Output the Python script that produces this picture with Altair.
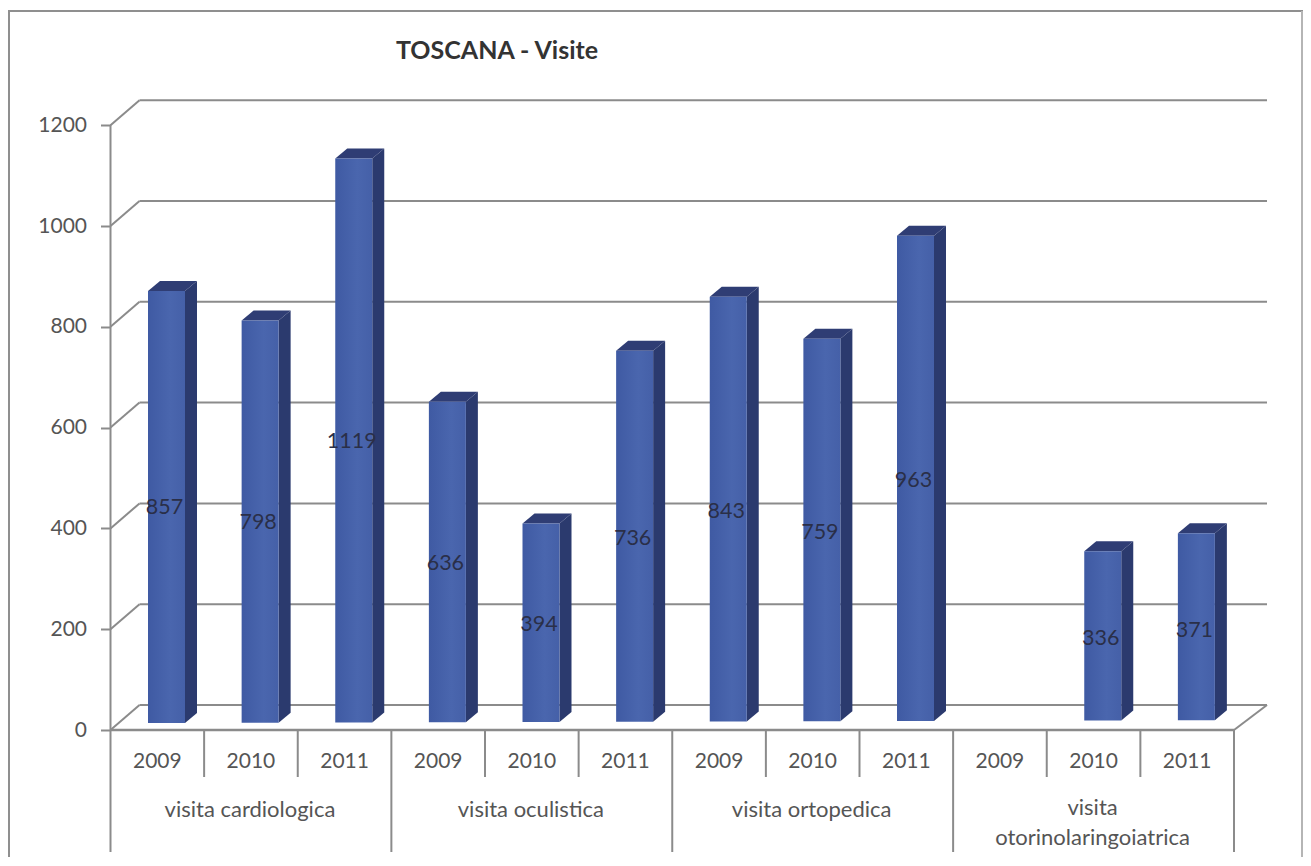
import altair as alt
import pandas as pd

# ---- chart values ----
title_text = "TOSCANA - Visite"
groups = [["visita cardiologica"], ["visita oculistica"], ["visita ortopedica"],
          ["visita", "otorinolaringoiatrica"]]
years = ["2009", "2010", "2011"]
values = [857, 798, 1119, 636, 394, 736, 843, 759, 963, None, 336, 371]
ticks = [0, 200, 400, 600, 800, 1000, 1200]

# ---- geometry of the pseudo-3D box (picture pixels) ----
PX_PER_UNIT = 0.504
Y0 = 730
AX_L, AX_R = 110.5, 1234
DX, DY = 29, 25
STEP = (AX_R - AX_L) / 12
BAR_IN, BAR_W = 37.5, 37
BASE = 7            # bars stand slightly behind the front edge
TILT = 0.25         # the scanned page rises slightly to the right
B_DX, B_DY = 12, 10
BOTTOM = 857        # last picture row drawn, keeps the page from overflowing
RIGHT = 1303


def u(px):  # pixel height above the zero line -> value units
    return px / PX_PER_UNIT


def py(p):  # picture y -> value units
    return (Y0 - p) / PX_PER_UNIT


xs = alt.Scale(domain=[8, RIGHT], range=[0, RIGHT - 8], nice=False, zero=False)
ys = alt.Scale(domain=[py(BOTTOM), py(8)], range=[BOTTOM - 8, 0], nice=False, zero=False)
GRID = "#8b8b8b"
TXT = "#555555"
FONT = "Lato"
AXIS = alt.Axis(values=ticks, title=None, grid=False, domain=False, offset=-(AX_L - 8),
                tickSize=10, tickColor=GRID, tickWidth=2, labelFont=FONT, labelFontSize=21,
                labelColor=TXT, labelPadding=14, format="d")
X = lambda f="x": alt.X(f"{f}:Q", scale=xs, axis=None)
Y = lambda f="y": alt.Y(f"{f}:Q", scale=ys, axis=AXIS)

# ---- axis / grid ----
back = pd.DataFrame({"x": AX_L + DX, "x2": AX_R + DX + 4, "y": [t + u(DY) for t in ticks]})
grid = alt.Chart(back).mark_rule(color=GRID, strokeWidth=2).encode(X(), x2="x2:Q", y=Y())

diag_rows = []
for t in ticks:
    diag_rows += [dict(k=f"t{t}", x=AX_L, y=t), dict(k=f"t{t}", x=AX_L + DX, y=t + u(DY))]
diag_rows += [dict(k="r", x=AX_R, y=0), dict(k="r", x=AX_R + 33, y=u(DY))]
diag = alt.Chart(pd.DataFrame(diag_rows)).mark_line(color=GRID, strokeWidth=2).encode(X(), Y(), detail="k:N")

front_floor = alt.Chart(pd.DataFrame({"x": [AX_L], "x2": [AX_R], "y": [0]})).mark_rule(
    color=GRID, strokeWidth=2.5).encode(X(), x2="x2:Q", y=Y())

yaxis = alt.Chart(pd.DataFrame({"x": [AX_L], "y": [0], "y2": [1200]})).mark_rule(
    color=GRID, strokeWidth=2).encode(X(), y=Y(), y2="y2:Q")

sep_rows = []
for i in range(13):
    sep_rows.append(dict(x=AX_L + i * STEP, y=0, y2=py(852 if i % 3 == 0 else 777)))
seps = alt.Chart(pd.DataFrame(sep_rows)).mark_rule(color=GRID, strokeWidth=2).encode(X(), Y(), y2="y2:Q")

# ---- bars ----
front, side, top = [], [], []
for i, v in enumerate(values):
    if v is None:
        continue
    base = u(BASE + TILT * i)
    l = AX_L + i * STEP + BAR_IN
    r = l + BAR_W
    t = base + v
    dy = u(B_DY)
    front.append(dict(x=l, x2=r, y=base, y2=t, lab=str(v), cx=(l + r) / 2 - 2,
                      cy=u(BASE) + v / 2 - u(1)))
    side += [dict(k=i, x=r, y=t, y2=base), dict(k=i, x=r + B_DX, y=t + dy, y2=base + dy)]
    top += [dict(k=i, x=l, y=t, y2=t), dict(k=i, x=l + B_DX, y=t + dy, y2=t),
            dict(k=i, x=r, y=t + dy, y2=t), dict(k=i, x=r + B_DX, y=t + dy, y2=t + dy)]

side_l = alt.Chart(pd.DataFrame(side)).mark_area(color="#2b3a6e", orient="vertical", interpolate="linear").encode(
    X(), Y(), y2="y2:Q", detail="k:N")
top_l = alt.Chart(pd.DataFrame(top)).mark_area(color="#2f3d74", orient="vertical", interpolate="linear").encode(
    X(), Y(), y2="y2:Q", detail="k:N")
grad = alt.Gradient(gradient="linear", x1=0, x2=1, y1=0, y2=0, stops=[
    alt.GradientStop(color="#3f5aa3", offset=0),
    alt.GradientStop(color="#4a66ae", offset=0.6),
    alt.GradientStop(color="#4560a8", offset=1)])
fdf = pd.DataFrame(front)
front_l = alt.Chart(fdf).mark_bar(color=grad).encode(X(), x2="x2:Q", y=Y(), y2="y2:Q")
val_l = alt.Chart(fdf).mark_text(font=FONT, fontSize=21.5, color="#2a2f48").encode(
    x=X("cx"), y=Y("cy"), text="lab:N")

# ---- category labels ----
lab_rows = []
for i in range(12):
    lab_rows.append(dict(x=AX_L + (i + .5) * STEP, y=py(762), t=years[i % 3]))
year_l = alt.Chart(pd.DataFrame(lab_rows)).mark_text(font=FONT, fontSize=21, color=TXT).encode(
    X(), Y(), text="t:N")
grp_rows = []
for g, lines in enumerate(groups):
    cx = AX_L + (g * 3 + 1.5) * STEP - 1
    pys = [810] if len(lines) == 1 else [808, 838]
    for line, p in zip(lines, pys):
        grp_rows.append(dict(x=cx, y=py(p), t=line))
grp_l = alt.Chart(pd.DataFrame(grp_rows)).mark_text(font=FONT, fontSize=22, color=TXT).encode(
    X(), Y(), text="t:N")

title_l = alt.Chart(pd.DataFrame({"x": [497], "y": [py(51)], "t": [title_text]})).mark_text(
    font=FONT, fontSize=25, fontWeight="bold", color="#333333").encode(X(), Y(), text="t:N")

# ---- outer frame ----
W = RIGHT - 8
frame_t = alt.Chart(pd.DataFrame({"a": [0]})).mark_rule(color="#8f8f8f", strokeWidth=2).encode(
    x=alt.value(0), x2=alt.value(W), y=alt.value(3))
frame_l = alt.Chart(pd.DataFrame({"a": [0]})).mark_rule(color="#8f8f8f", strokeWidth=2).encode(
    x=alt.value(1), y=alt.value(3), y2=alt.value(BOTTOM - 8))
frame_r = alt.Chart(pd.DataFrame({"a": [0]})).mark_rule(color="#b5b5b5", strokeWidth=2).encode(
    x=alt.value(W - 1), y=alt.value(3), y2=alt.value(BOTTOM - 8))

chart = alt.layer(
    frame_t, frame_l, frame_r, grid, diag, front_floor, yaxis, seps,
    side_l, top_l, front_l, val_l, year_l, grp_l, title_l
).properties(
    width=W, height=BOTTOM - 8, padding=0, autosize=alt.AutoSizeParams(type="none"), background="white"
).configure_view(stroke=None)

chart.save("out.html", embed_options={"renderer": "svg", "actions": False})
